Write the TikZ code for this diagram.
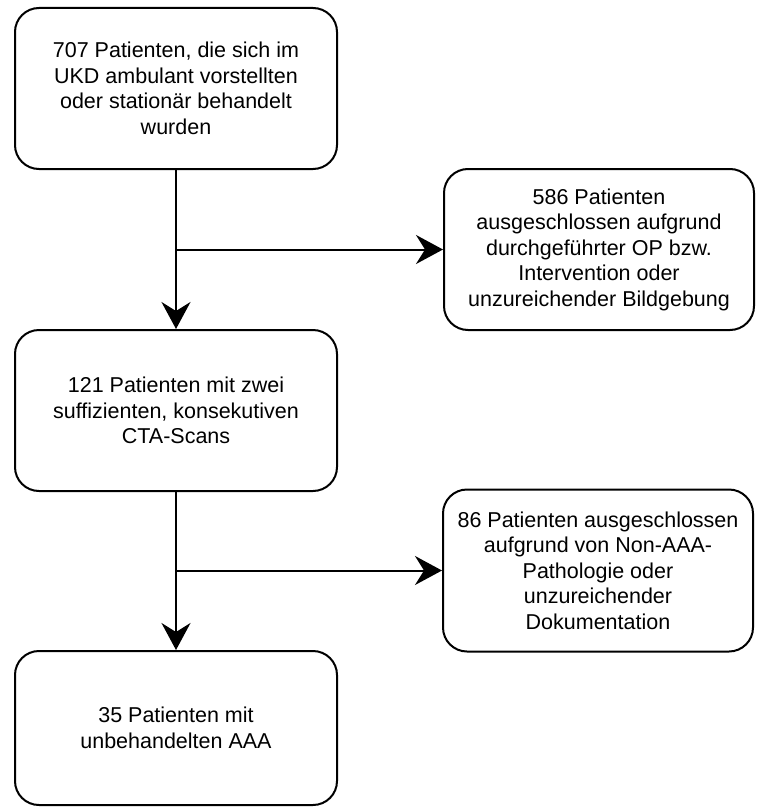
\documentclass[tikz,border=0pt]{standalone}
\usepackage{fontspec}
\setmainfont{Liberation Sans}
\usetikzlibrary{arrows.meta}

\tikzset{
    flowbox/.style={draw, line width=2pt, rounded corners=24pt, align=center,
        font=\fontsize{21.5}{25.5}\selectfont, inner sep=0pt},
    flowarrow/.style={line width=2pt, -{Stealth[length=27pt, width=29pt, inset=9pt]}}
}

\begin{document}
\begin{tikzpicture}[x=1pt, y=-1pt]

    % Fix the size of the page
    \useasboundingbox (0,0) rectangle (757,808);

    % Boxes on the left (main path)
    \node[flowbox, minimum width=322pt, minimum height=161pt] (start) at (176,88.5)
        {707 Patienten, die sich im\\UKD ambulant vorstellten\\oder stationär behandelt\\wurden};
    \node[flowbox, minimum width=322pt, minimum height=161pt] (scans) at (176,410.5)
        {121 Patienten mit zwei\\suffizienten, konsekutiven\\CTA-Scans};
    \node[flowbox, minimum width=322pt, minimum height=154pt] (result) at (176,728)
        {35 Patienten mit\\unbehandelten AAA};

    % Boxes on the right (exclusions)
    \node[flowbox, minimum width=310pt, minimum height=161pt] (excl1) at (599,249.5)
        {586 Patienten\\ausgeschlossen aufgrund\\durchgeführter OP bzw.\\Intervention oder\\unzureichender Bildgebung};
    \node[flowbox, minimum width=310pt, minimum height=162pt] (excl2) at (598,570.5)
        {86 Patienten ausgeschlossen\\aufgrund von Non-AAA-\\Pathologie oder\\unzureichender\\Dokumentation};

    % Branch points on the vertical lines
    \coordinate (fork1) at (start |- excl1);
    \coordinate (fork2) at (scans |- excl2);

    % Vertical arrows
    \draw[flowarrow] (start) -- (scans);
    \draw[flowarrow] (scans) -- (result);

    % Horizontal arrows to the exclusions
    \draw[flowarrow] (fork1) -- (excl1);
    \draw[flowarrow] (fork2) -- (excl2);

\end{tikzpicture}
\end{document}
